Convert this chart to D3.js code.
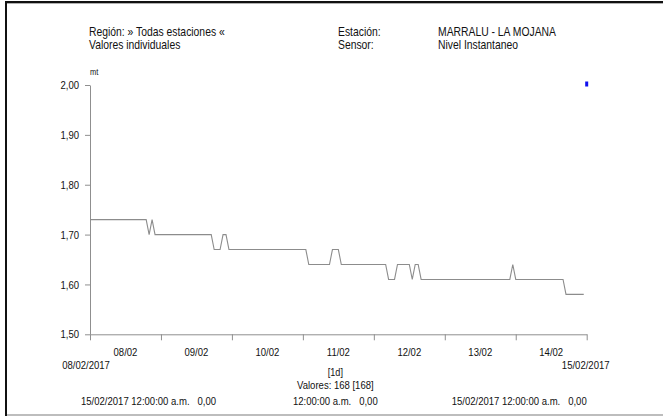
<!DOCTYPE html>
<html>
<head>
<meta charset="utf-8">
<script src="https://cdn.jsdelivr.net/npm/d3@7"></script>
<style>
  html, body { margin: 0; padding: 0; background: #fff; }
  svg { display: block; }
  text { font-family: "Liberation Sans", Arial, sans-serif; fill: #111; white-space: pre; }
</style>
</head>
<body>
<svg id="chart" width="663" height="416"></svg>
<script>
// ---- data ----
const startDate = "2017-02-08T00:00:00";
const endDate = "2017-02-15T00:00:00";
// hourly values (mt), one row per day, 168 values
const day1 = [1.73,1.73,1.73,1.73,1.73,1.73,1.73,1.73,1.73,1.73,1.73,1.73,1.73,1.73,1.73,1.73,1.73,1.73,1.73,1.73,1.70,1.73,1.70,1.70];
const day2 = [1.70,1.70,1.70,1.70,1.70,1.70,1.70,1.70,1.70,1.70,1.70,1.70,1.70,1.70,1.70,1.70,1.70,1.70,1.67,1.67,1.67,1.70,1.70,1.67];
const day3 = [1.67,1.67,1.67,1.67,1.67,1.67,1.67,1.67,1.67,1.67,1.67,1.67,1.67,1.67,1.67,1.67,1.67,1.67,1.67,1.67,1.67,1.67,1.67,1.67];
const day4 = [1.67,1.67,1.64,1.64,1.64,1.64,1.64,1.64,1.64,1.64,1.67,1.67,1.67,1.64,1.64,1.64,1.64,1.64,1.64,1.64,1.64,1.64,1.64,1.64];
const day5 = [1.64,1.64,1.64,1.64,1.64,1.61,1.61,1.61,1.64,1.64,1.64,1.64,1.64,1.61,1.64,1.64,1.61,1.61,1.61,1.61,1.61,1.61,1.61,1.61];
const day6 = [1.61,1.61,1.61,1.61,1.61,1.61,1.61,1.61,1.61,1.61,1.61,1.61,1.61,1.61,1.61,1.61,1.61,1.61,1.61,1.61,1.61,1.61,1.61,1.64];
const day7 = [1.61,1.61,1.61,1.61,1.61,1.61,1.61,1.61,1.61,1.61,1.61,1.61,1.61,1.61,1.61,1.61,1.61,1.58,1.58,1.58,1.58,1.58,1.58,1.58];
const values = [].concat(day1, day2, day3, day4, day5, day6, day7);
const markerValue = 2.00;           // blue marker at end
const yTicks = [1.50, 1.60, 1.70, 1.80, 1.90, 2.00];
const dayLabels = ["08/02","09/02","10/02","11/02","12/02","13/02","14/02"];
const headerLeft = ["Región: » Todas estaciones «", "Valores individuales"];
const headerMidLabels = ["Estación:", "Sensor:"];
const headerMidValues = ["MARRALU - LA MOJANA", "Nivel Instantaneo"];
const unitLabel = "mt";
const startLabel = "08/02/2017";
const endLabel = "15/02/2017";
const intervalLabel = "[1d]";
const countLabel = "Valores: 168 [168]";
const footerLeft = "15/02/2017 12:00:00 a.m.   0,00";
const footerMid = "12:00:00 a.m.   0,00";
const footerRight = "15/02/2017 12:00:00 a.m.   0,00";

// ---- setup ----
const svg = d3.select("#chart");
const t0 = new Date(startDate), t1 = new Date(endDate);
const x = d3.scaleTime().domain([t0, t1]).range([90, 586.7]);
const y = d3.scaleLinear().domain([1.5, 2.0]).range([334.3, 85]);
const fmt = v => d3.format(".2f")(v).replace(".", ",");
const axisColor = "#8f8f8f";
const SX = 0.83; // condensed type

function txt(g, px, py, s, size, anchor) {
  return g.append("text")
    .attr("transform", `translate(${px},${py}) scale(${SX},1)`)
    .attr("text-anchor", anchor || "start")
    .attr("font-size", size)
    .text(s);
}

// frame
svg.append("rect").attr("x", 7).attr("y", 3).attr("width", 656).attr("height", 1).attr("fill", "#b0b0b0");
svg.append("rect").attr("x", 5).attr("y", 1).attr("width", 658).attr("height", 2).attr("fill", "#111");
svg.append("rect").attr("x", 5).attr("y", 1).attr("width", 2).attr("height", 415).attr("fill", "#111");
svg.append("rect").attr("x", 7).attr("y", 414).attr("width", 656).attr("height", 2).attr("fill", "#bdbdbd");

// header
const hdr = svg.append("g");
headerLeft.forEach((s, i) => txt(hdr, 89, 36 + i * 13, s, 12.5));
headerMidLabels.forEach((s, i) => txt(hdr, 338, 36 + i * 13, s, 12.5));
headerMidValues.forEach((s, i) => txt(hdr, 438, 36 + i * 13, s, 12.5));

txt(svg, 90, 75, unitLabel, 9);

// y axis
const yAxis = d3.axisLeft(y).tickValues(yTicks).tickFormat(fmt).tickSize(5).tickSizeOuter(0).tickPadding(6);
const gy = svg.append("g").attr("transform", "translate(90,0)").call(yAxis);
gy.selectAll("path, line").attr("stroke", axisColor);
gy.selectAll("text")
  .attr("font-size", 11.5).attr("fill", "#111")
  .attr("font-family", '"Liberation Sans", Arial, sans-serif')
  .attr("x", -11 / SX)
  .attr("transform", `scale(${SX},1)`);

// x axis
const dayTicks = d3.timeDay.range(t0, d3.timeDay.offset(t1, 1));
const xAxis = d3.axisBottom(x).tickValues(dayTicks).tickFormat("").tickSize(6).tickSizeOuter(0);
const gx = svg.append("g").attr("transform", "translate(0,334.3)").call(xAxis);
gx.selectAll("path, line").attr("stroke", axisColor);

// day labels at noon
const xl = svg.append("g");
dayLabels.forEach((s, i) => {
  const noon = d3.timeHour.offset(d3.timeDay.offset(t0, i), 12);
  txt(xl, x(noon), 355.5, s, 11.5, "middle");
});
txt(xl, x(t0) - 4, 368.5, startLabel, 11.5, "middle");
txt(xl, x(t1) - 1, 368.5, endLabel, 11.5, "middle");
const mid = (x(t0) + x(t1)) / 2 - 3;
txt(xl, mid, 375.5, intervalLabel, 11, "middle");
txt(xl, mid, 389, countLabel, 11.5, "middle");
txt(xl, mid, 404.5, footerMid, 11.5, "middle");
txt(xl, x(t0) - 9, 404.5, footerLeft, 11.5, "start");
txt(xl, x(t1), 404.5, footerRight, 11.5, "end");

// data line
const pts = values.map((v, i) => ({ t: d3.timeHour.offset(t0, i), v }));
const line = d3.line().x(d => x(d.t)).y(d => y(d.v));
svg.append("path").datum(pts).attr("d", line)
  .attr("fill", "none").attr("stroke", "#8c8c8c").attr("stroke-width", 1.1);

// blue marker
svg.append("rect").attr("x", x(t1) - 1.5).attr("y", y(markerValue) - 3.5).attr("width", 3).attr("height", 5).attr("fill", "#1010ee");
</script>
</body>
</html>
